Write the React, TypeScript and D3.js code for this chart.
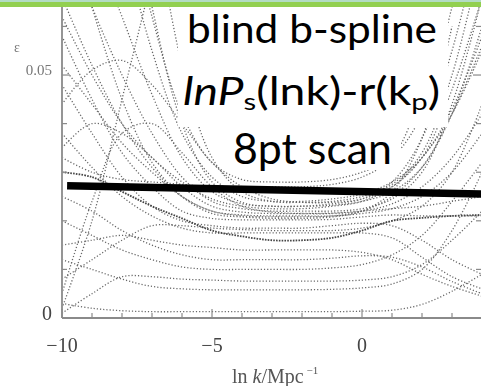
import React from 'react';
import * as d3 from 'd3';

// ln k grid (Mpc^-1) at which the dotted spline curves are sampled
const LNK: number[] = [-10, -9, -8, -7, -6, -5, -4, -3, -2, -1, 0, 1, 2, 3, 4];

// epsilon values of each dotted curve, in units of 0.001 (null = off the chart)
const curvesPermille: (number | null)[][] = [
  [140, 115, 88, 62, 42, 32, 28.5, 28, 28, 28.5, 30, 33, 42, 64, 90],
  [120, 100, 78, 55, 38, 29, 25, 24, 24, 24.5, 25.5, 28, 33, 43, 58],
  [95, 78, 62, 46, 33, 26, 23.5, 23, 23, 23.5, 24.5, 28, 37, 55, 80],
  [80, 64, 50, 38, 29, 24, 22.5, 22, 22, 22, 22.5, 24.5, 30, 44, 66],
  [66, 52, 40, 31, 25, 22, 21.2, 21, 21, 21, 21.5, 22.5, 25, 30, 38],
  [58, 45, 34, 27, 22, 20.5, 20.2, 20.2, 20.2, 20.3, 20.8, 21.2, 21, 21, 21],
  [48, 38, 29, 23, 20, 19, 18.5, 18.5, 18.5, 19, 19.5, 19, 16, 12, 9],
  [38, 31, 25, 21, 18.5, 17.5, 17.5, 17.5, 17.5, 17.5, 17.5, 16.5, 12.5, 8.5, 6],
  [25, 22, 18, 15, 13, 12, 12, 12, 12, 12.3, 12.8, 12.5, 10.5, 7.5, 5],
  [20, 17, 14, 12, 10.5, 10, 10, 10, 10, 10.3, 11, 13, 17, 24, 32],
  [12, 10, 8, 6.5, 6, 5.8, 5.8, 5.8, 5.8, 5.9, 6.2, 7, 10, 18, 30],
  [1, 5, 8.5, 8.5, 8, 7.8, 7.6, 7.6, 7.6, 7.6, 7.8, 8.5, 11, 16, 22],
  [3, 2, 1.5, 1.3, 1.3, 1.3, 1.3, 1.3, 1.3, 1.3, 1.4, 1.6, 2.8, 5.5, 9],
  [44, 51, 53, 48, 40, 32, 27, 24.5, 23.8, 23.8, 24.5, 27, 33, 47, 66],
  [5, 24, 38, 40, 34, 27, 23, 21.8, 21.5, 21.5, 22, 23.5, 27, 33, 42],
  [2, 20, 45, 70, null, null, null, null, null, null, null, null, null, null, null],
  [62, 50, 40, 33, 28, 24.5, 23, 22.5, 22.5, 23, 24, 27, 33, 42, 55],
  [35, 40, 38, 33, 27, 23, 21.8, 21.5, 21.5, 21.6, 22, 22.5, 23, 24, 25],
  [33, 30, 28.5, 28, 27.5, 27, 27, 27, 27, 27.5, 29, 33, 47, 75, null],
  [52, 44, 36, 30, 25, 22, 21, 20.8, 20.8, 21, 22, 25, 31, 42, 56],
  [8, 12, 16, 19, 19, 18.5, 18.2, 18, 18, 18, 18.5, 20, 23, 30, 44],
  [15, 16, 17, 16, 15, 14.5, 14, 14, 14, 14, 13.5, 12, 9, 6.5, 4.5],
  [null, 64, 45, 32, 25, 21.5, 20.8, 20.5, 20.5, 20.8, 22, 26, 37, 60, null],
  [null, null, 95, 64, 40, 28, 23.8, 23, 23, 23.2, 24, 26, 31, 42, 60],
  [null, null, null, 85, 52, 33, 26, 24, 23.8, 24, 25, 27.5, 34, 50, 75],
];
// the highlighted (darker) curve
const darkCurve: number[] = [30, 29, 26, 23, 20.5, 18, 16.8, 16, 16, 16.5, 18, 20, 20.6, 21, 21.2];

// thick black overlay line
const FIT_LNK: number[] = [-9.83, 4];
const FIT_EPS: number[] = [0.0272, 0.0255];

const X_TICKS: number[] = [-10, -9, -8, -7, -6, -5, -4, -3, -2, -1, 0, 1, 2, 3];
const X_LABELS: number[] = [-10, -5, 0];
const Y_TICKS: number[] = [0.01, 0.02, 0.03, 0.04, 0.05, 0.06];

const x = d3.scaleLinear().domain([-10, 4]).range([62, 482]);
const y = d3.scaleLinear().domain([0, 0.064]).range([318, 7]);

type P = [number, number | null];
const curveLine = d3
  .line<P>()
  .defined((d) => d[1] != null)
  .x((d) => x(d[0]))
  .y((d) => y((d[1] as number) / 1000))
  .curve(d3.curveCatmullRom.alpha(0.5));

const fitLine = d3
  .line<[number, number]>()
  .x((d) => x(d[0]))
  .y((d) => y(d[1]));

export default function App() {
  const serif = '"Liberation Serif", "DejaVu Serif", serif';
  const sans = 'Lato, "Open Sans", sans-serif';
  const fmt = (v: number) => (v < 0 ? '\u2212' + Math.abs(v) : String(v));
  return (
    <svg
      width={481}
      height={386}
      style={{ position: 'absolute', left: 0, top: 0, background: '#fff' }}
    >
      <defs>
        <clipPath id="plotClip">
          <rect x={63} y={0} width={420} height={317} />
        </clipPath>
        <filter id="soft" x="-5%" y="-5%" width="110%" height="110%">
          <feGaussianBlur stdDeviation={0.45} />
        </filter>
        <filter id="softer" x="-5%" y="-5%" width="110%" height="110%">
          <feGaussianBlur stdDeviation={0.7} />
        </filter>
      </defs>
      <rect x={0} y={0} width={481} height={386} fill="#fff" />

      <g clipPath="url(#plotClip)" filter="url(#soft)">
        {curvesPermille.map((c, i) => (
          <path
            key={i}
            d={curveLine(LNK.map((k, j) => [k, c[j]] as P)) || ''}
            fill="none"
            stroke="#686868"
            strokeWidth={1.3}
            strokeDasharray="1.2 2"
          />
        ))}
        <path
          d={curveLine(LNK.map((k, j) => [k, darkCurve[j]] as P)) || ''}
          fill="none"
          stroke="#444"
          strokeWidth={1.8}
          strokeDasharray="1.6 1.2"
        />
      </g>

      <g filter="url(#soft)" stroke="#8a8a8a">
        <line x1={x(-10)} x2={x(-10)} y1={7} y2={y(0)} strokeWidth={1.8} />
        <line x1={x(-10)} x2={481} y1={y(0)} y2={y(0)} strokeWidth={1.8} />
        {X_TICKS.map((t) => (
          <line
            key={'xt' + t}
            x1={x(t)}
            x2={x(t)}
            y1={y(0)}
            y2={y(0) - (t % 5 === 0 ? 9 : 5)}
            strokeWidth={1.2}
          />
        ))}
        {Y_TICKS.map((t) => (
          <g key={'yt' + t}>
            <line
              x1={x(-10)}
              x2={x(-10) + (Math.abs(t - 0.05) < 1e-9 ? 8 : 5)}
              y1={y(t)}
              y2={y(t)}
              strokeWidth={1.2}
            />
            <line
              x1={481}
              x2={481 - (Math.abs(t - 0.05) < 1e-9 ? 8 : 5)}
              y1={y(t)}
              y2={y(t)}
              strokeWidth={1.2}
            />
          </g>
        ))}
      </g>

      <g filter="url(#softer)" fontFamily={serif}>
        {X_LABELS.map((t) => (
          <text key={'xl' + t} x={x(t)} y={352} textAnchor="middle" fontSize={20} fill="#444">
            {fmt(t)}
          </text>
        ))}
        <text x={52} y={320} textAnchor="end" fontSize={20} fill="#444">0</text>
        <text x={52} y={75} textAnchor="end" fontSize={15} fill="#777">0.05</text>
        <text x={17} y={52} textAnchor="middle" fontSize={14} fill="#777">ε</text>
        <text x={232} y={383} fontSize={20} fill="#555">
          <tspan>ln </tspan>
          <tspan fontStyle="italic">k</tspan>
          <tspan>/Mpc</tspan>
          <tspan fontSize={11} dy={-9}>{' \u22121'}</tspan>
        </text>
      </g>

      <rect x={178} y={7} width={270} height={120} fill="#fff" />
      <rect x={226} y={124} width={175} height={46} fill="#fff" />

      <g fontFamily={sans} fill="#000">
        <text x={312} y={43} textAnchor="middle" fontSize={38} textLength={250} lengthAdjust="spacingAndGlyphs">
          blind b-spline
        </text>
        <text x={183} y={105} fontSize={38} textLength={257} lengthAdjust="spacingAndGlyphs">
          <tspan fontStyle="italic">lnP</tspan>
          <tspan fontSize={24} dy={5}>s</tspan>
          <tspan dy={-5}>(lnk)-r(k</tspan>
          <tspan fontSize={24} dy={5}>p</tspan>
          <tspan dy={-5}>)</tspan>
        </text>
        <text x={312.5} y={164} textAnchor="middle" fontSize={42} textLength={159} lengthAdjust="spacingAndGlyphs">
          8pt scan
        </text>
      </g>

      <path
        d={fitLine(FIT_LNK.map((k, i) => [k, FIT_EPS[i]] as [number, number])) || ''}
        stroke="#000"
        strokeWidth={7.5}
        fill="none"
      />

      <rect x={0} y={0} width={481} height={2} fill="#b3dcc4" />
      <rect x={0} y={2} width={481} height={5} fill="#92d050" />
    </svg>
  );
}
